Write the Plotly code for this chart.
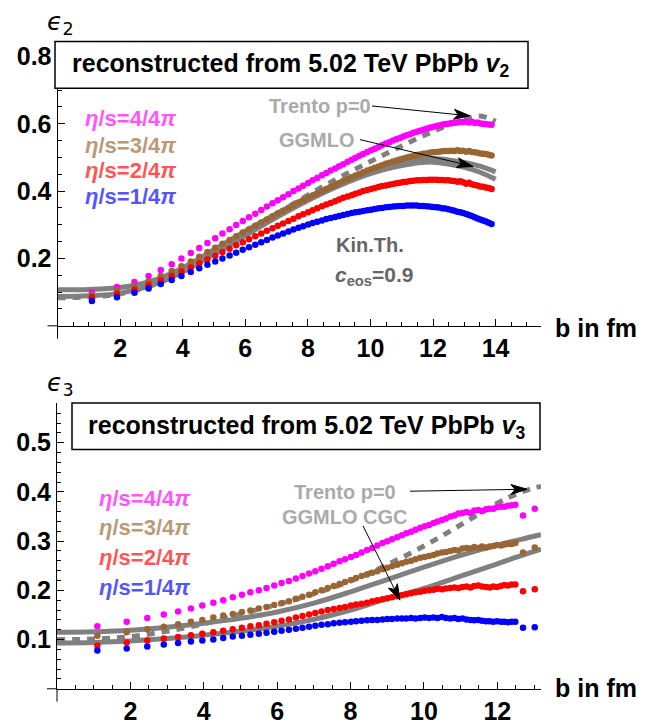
import math
import plotly.graph_objects as go

W, H = 651, 725

# ---------------- data: top panel (epsilon_2) ----------------
b_top = [1.10, 1.90, 2.46, 2.91, 3.30, 3.65, 3.96, 4.26, 4.53, 4.79,
         5.04, 5.27, 5.50, 5.71, 5.92, 6.12, 6.32, 6.51, 6.69, 6.87,
         7.04, 7.21, 7.38, 7.54, 7.70, 7.85, 8.01, 8.15, 8.30, 8.45,
         8.59, 8.73, 8.87, 9.00, 9.13, 9.27, 9.40, 9.52, 9.65, 9.77,
         9.90, 10.02, 10.14, 10.26, 10.37, 10.49, 10.60, 10.72, 10.83, 10.94,
         11.05, 11.16, 11.27, 11.37, 11.48, 11.58, 11.69, 11.79, 11.89, 11.99,
         12.10, 12.19, 12.29, 12.39, 12.49, 12.59, 12.68, 12.78, 12.87, 12.96,
         13.06, 13.15, 13.24, 13.33, 13.42, 13.51, 13.60, 13.69, 13.78, 13.87]

e2_eta1 = [0.074, 0.085, 0.098, 0.111, 0.124, 0.136, 0.148, 0.160, 0.171, 0.181,
           0.191, 0.200, 0.209, 0.217, 0.226, 0.233, 0.241, 0.248, 0.255, 0.262,
           0.268, 0.274, 0.280, 0.286, 0.291, 0.296, 0.301, 0.305, 0.309, 0.313,
           0.317, 0.320, 0.323, 0.326, 0.329, 0.332, 0.335, 0.337, 0.339, 0.341,
           0.343, 0.345, 0.347, 0.349, 0.350, 0.352, 0.353, 0.354, 0.355, 0.356,
           0.356, 0.357, 0.357, 0.357, 0.357, 0.356, 0.356, 0.355, 0.354, 0.353,
           0.352, 0.351, 0.349, 0.348, 0.346, 0.344, 0.342, 0.339, 0.337, 0.335,
           0.332, 0.329, 0.326, 0.322, 0.319, 0.316, 0.313, 0.310, 0.306, 0.302]

e2_eta2 = [0.085, 0.095, 0.107, 0.121, 0.135, 0.148, 0.161, 0.174, 0.186, 0.197,
           0.208, 0.219, 0.229, 0.239, 0.248, 0.257, 0.266, 0.274, 0.282, 0.290,
           0.297, 0.304, 0.311, 0.318, 0.325, 0.331, 0.337, 0.343, 0.349, 0.355,
           0.360, 0.365, 0.370, 0.375, 0.380, 0.384, 0.388, 0.392, 0.396, 0.400,
           0.403, 0.406, 0.409, 0.412, 0.415, 0.417, 0.419, 0.421, 0.423, 0.425,
           0.427, 0.428, 0.430, 0.431, 0.432, 0.432, 0.433, 0.433, 0.434, 0.434,
           0.434, 0.433, 0.433, 0.432, 0.432, 0.431, 0.430, 0.428, 0.429, 0.426,
           0.422, 0.425, 0.420, 0.418, 0.417, 0.414, 0.413, 0.411, 0.409, 0.406]

e2_eta3 = [0.092, 0.106, 0.118, 0.132, 0.148, 0.163, 0.177, 0.191, 0.205, 0.219,
           0.232, 0.244, 0.255, 0.266, 0.277, 0.287, 0.297, 0.307, 0.316, 0.325,
           0.334, 0.342, 0.350, 0.358, 0.366, 0.373, 0.380, 0.387, 0.393, 0.400,
           0.406, 0.412, 0.418, 0.424, 0.430, 0.436, 0.441, 0.446, 0.451, 0.456,
           0.461, 0.465, 0.469, 0.473, 0.477, 0.481, 0.484, 0.488, 0.491, 0.494,
           0.497, 0.500, 0.502, 0.504, 0.507, 0.509, 0.511, 0.512, 0.514, 0.515,
           0.516, 0.517, 0.518, 0.519, 0.519, 0.520, 0.519, 0.521, 0.519, 0.520,
           0.517, 0.519, 0.516, 0.515, 0.514, 0.512, 0.511, 0.510, 0.508, 0.506]

e2_eta4 = [0.100, 0.115, 0.130, 0.148, 0.166, 0.183, 0.200, 0.216, 0.231, 0.246,
           0.260, 0.274, 0.287, 0.299, 0.311, 0.322, 0.333, 0.344, 0.354, 0.364,
           0.373, 0.382, 0.391, 0.400, 0.408, 0.416, 0.424, 0.432, 0.439, 0.447,
           0.454, 0.461, 0.467, 0.474, 0.480, 0.487, 0.493, 0.499, 0.505, 0.510,
           0.516, 0.521, 0.526, 0.531, 0.536, 0.541, 0.545, 0.550, 0.554, 0.558,
           0.562, 0.566, 0.569, 0.573, 0.576, 0.579, 0.582, 0.585, 0.588, 0.590,
           0.593, 0.595, 0.597, 0.599, 0.600, 0.602, 0.603, 0.604, 0.606, 0.605,
           0.607, 0.604, 0.606, 0.602, 0.604, 0.601, 0.600, 0.599, 0.598, 0.597]

# model curves, top panel
b_line_top = [0, 1, 2, 3, 4, 5, 6, 7, 8, 9, 10, 11, 12, 13, 13.5, 14.0]
ggmlo_top_a = [0.107, 0.108, 0.114, 0.133, 0.172, 0.226, 0.281, 0.333, 0.382, 0.425,
               0.462, 0.487, 0.497, 0.485, 0.474, 0.457]
ggmlo_top_b = [0.087, 0.089, 0.097, 0.120, 0.160, 0.213, 0.268, 0.322, 0.372, 0.416,
               0.452, 0.476, 0.486, 0.471, 0.456, 0.435]
trento_top = [0.083, 0.086, 0.095, 0.119, 0.162, 0.217, 0.274, 0.332, 0.388, 0.440,
              0.488, 0.534, 0.577, 0.612, 0.623, 0.607]

# ---------------- data: bottom panel (epsilon_3) ----------------
b_bot = [1.10, 1.90, 2.46, 2.91, 3.30, 3.65, 3.96, 4.26, 4.53, 4.79,
         5.04, 5.27, 5.50, 5.71, 5.92, 6.12, 6.32, 6.51, 6.69, 6.87,
         7.04, 7.21, 7.38, 7.54, 7.70, 7.85, 8.01, 8.15, 8.30, 8.45,
         8.59, 8.73, 8.87, 9.00, 9.13, 9.27, 9.40, 9.52, 9.65, 9.77,
         9.90, 10.02, 10.14, 10.26, 10.37, 10.49, 10.60, 10.72, 10.83, 10.94,
         11.05, 11.16, 11.27, 11.37, 11.48, 11.58, 11.69, 11.79, 11.89, 11.99,
         12.10, 12.19, 12.29, 12.39, 12.49, 12.70, 13.02]

e3_eta4 = [0.127, 0.136, 0.144, 0.151, 0.157, 0.163, 0.169, 0.175, 0.180, 0.186,
           0.191, 0.196, 0.200, 0.205, 0.210, 0.215, 0.219, 0.224, 0.229, 0.234,
           0.239, 0.244, 0.249, 0.254, 0.259, 0.263, 0.268, 0.272, 0.277, 0.282,
           0.286, 0.291, 0.296, 0.300, 0.304, 0.308, 0.312, 0.316, 0.319, 0.323,
           0.327, 0.330, 0.333, 0.337, 0.340, 0.343, 0.346, 0.350, 0.352, 0.356,
           0.357, 0.359, 0.357, 0.362, 0.363, 0.361, 0.365, 0.366, 0.366, 0.369,
           0.370, 0.370, 0.372, 0.373, 0.374, 0.352, 0.366]

e3_eta3 = [0.108, 0.115, 0.121, 0.126, 0.131, 0.136, 0.140, 0.145, 0.149, 0.152,
           0.156, 0.159, 0.163, 0.166, 0.170, 0.174, 0.178, 0.183, 0.187, 0.191,
           0.196, 0.200, 0.205, 0.209, 0.213, 0.217, 0.221, 0.225, 0.229, 0.232,
           0.236, 0.239, 0.243, 0.246, 0.249, 0.252, 0.255, 0.258, 0.260, 0.263,
           0.266, 0.268, 0.270, 0.272, 0.275, 0.277, 0.278, 0.280, 0.282, 0.281,
           0.285, 0.286, 0.285, 0.288, 0.286, 0.289, 0.287, 0.289, 0.290, 0.292,
           0.291, 0.293, 0.294, 0.294, 0.296, 0.277, 0.287]

e3_eta2 = [0.088, 0.094, 0.098, 0.102, 0.105, 0.109, 0.112, 0.115, 0.118, 0.121,
           0.124, 0.127, 0.129, 0.132, 0.135, 0.138, 0.141, 0.145, 0.148, 0.151,
           0.154, 0.157, 0.160, 0.162, 0.164, 0.166, 0.169, 0.171, 0.173, 0.175,
           0.178, 0.180, 0.182, 0.184, 0.186, 0.188, 0.190, 0.192, 0.194, 0.196,
           0.197, 0.199, 0.200, 0.201, 0.203, 0.202, 0.204, 0.205, 0.206, 0.205,
           0.207, 0.208, 0.206, 0.209, 0.210, 0.208, 0.207, 0.206, 0.208, 0.207,
           0.209, 0.211, 0.210, 0.212, 0.212, 0.198, 0.202]

e3_eta1 = [0.078, 0.082, 0.086, 0.090, 0.093, 0.096, 0.098, 0.100, 0.103, 0.106,
           0.108, 0.110, 0.112, 0.114, 0.116, 0.118, 0.120, 0.122, 0.124, 0.126,
           0.128, 0.130, 0.131, 0.133, 0.134, 0.135, 0.136, 0.137, 0.138, 0.139,
           0.140, 0.140, 0.141, 0.142, 0.142, 0.143, 0.143, 0.143, 0.144, 0.143,
           0.144, 0.145, 0.144, 0.145, 0.144, 0.146, 0.144, 0.143, 0.144, 0.142,
           0.143, 0.141, 0.140, 0.139, 0.140, 0.138, 0.137, 0.137, 0.136, 0.137,
           0.136, 0.136, 0.135, 0.136, 0.136, 0.124, 0.125]

b_line_bot = [0, 1, 2, 3, 4, 5, 6, 7, 8, 9, 10, 11, 12, 12.5, 13, 13.19]
ggmlo_bot_a = [0.115, 0.116, 0.119, 0.125, 0.133, 0.143, 0.156, 0.174, 0.197, 0.222,
               0.247, 0.271, 0.292, 0.301, 0.310, 0.313]
ggmlo_bot_b = [0.093, 0.094, 0.097, 0.102, 0.109, 0.117, 0.127, 0.141, 0.160, 0.183,
               0.204, 0.229, 0.254, 0.267, 0.279, 0.284]
trento_bot = [0.100, 0.101, 0.106, 0.117, 0.132, 0.152, 0.171, 0.193, 0.219, 0.252,
              0.290, 0.333, 0.377, 0.395, 0.408, 0.411]

legend_labels = ["<i>η</i>/s=4/4<i>π</i>", "<i>η</i>/s=3/4<i>π</i>",
                 "<i>η</i>/s=2/4<i>π</i>", "<i>η</i>/s=1/4<i>π</i>"]
dot_colors = ["#FF00FF", "#996633", "#FF0000", "#0000FF"]
label_colors = ["#FF55FF", "#BB9977", "#FF5555", "#5555FF"]

x_ticks_top = [2, 4, 6, 8, 10, 12, 14]
y_ticks_top = [0.2, 0.4, 0.6, 0.8]
x_ticks_bot = [2, 4, 6, 8, 10, 12]
y_ticks_bot = [0.1, 0.2, 0.3, 0.4, 0.5]

# ---------------- helpers ----------------
def px(x):
    return x / W

def py(y):
    return 1 - y / H

FONT = "Liberation Sans"
GRAY = "#808080"

fig = go.Figure()

def add_lines(xs, ya, yb, yt, xa, yax):
    for ys in (ya, yb):
        fig.add_trace(go.Scatter(x=xs, y=ys, mode="lines", xaxis=xa, yaxis=yax,
                                 line=dict(color=GRAY, width=5, shape="spline"),
                                 showlegend=False, hoverinfo="skip"))
    fig.add_trace(go.Scatter(x=xs, y=yt, mode="lines", xaxis=xa, yaxis=yax,
                             line=dict(color=GRAY, width=5, dash="8px,7px", shape="spline"),
                             showlegend=False, hoverinfo="skip"))

add_lines(b_line_top, ggmlo_top_a, ggmlo_top_b, trento_top, "x", "y")
add_lines(b_line_bot, ggmlo_bot_a, ggmlo_bot_b, trento_bot, "x2", "y2")

for ys, c in zip([e2_eta4, e2_eta3, e2_eta2, e2_eta1], dot_colors):
    fig.add_trace(go.Scatter(x=b_top, y=ys, mode="markers", xaxis="x", yaxis="y",
                             marker=dict(color=c, size=6.5), showlegend=False))
for ys, c in zip([e3_eta4, e3_eta3, e3_eta2, e3_eta1], dot_colors):
    fig.add_trace(go.Scatter(x=b_bot, y=ys, mode="markers", xaxis="x2", yaxis="y2",
                             marker=dict(color=c, size=6.5), showlegend=False))

tickfont = dict(family=FONT, size=25, color="black", weight="bold")

def xaxis_cfg(dom, rng, tv, anchor):
    return dict(domain=dom, range=rng, anchor=anchor, showline=True, linecolor="black",
                linewidth=1, ticks="inside", ticklen=7, tickwidth=1, tickcolor="black",
                tickmode="array", tickvals=tv, ticktext=[str(v) for v in tv],
                minor=dict(ticks="inside", ticklen=4, tickwidth=1, tickcolor="black",
                           tickmode="linear", tick0=0, dtick=0.5),
                showgrid=False, zeroline=False, tickfont=tickfont, fixedrange=True)

def yaxis_cfg(dom, rng, tv, anchor, minor_d):
    return dict(domain=dom, range=rng, anchor=anchor, showline=True, linecolor="black",
                linewidth=1, ticks="inside", ticklen=7, tickwidth=1, tickcolor="black",
                tickmode="array", tickvals=tv, ticktext=[f"{v:.1f}" for v in tv],
                minor=dict(ticks="inside", ticklen=4, tickwidth=1, tickcolor="black",
                           tickmode="linear", tick0=0, dtick=minor_d),
                showgrid=False, zeroline=False, tickfont=tickfont, fixedrange=True)

# pixel geometry of the two panels
top_x0, top_x1, top_y0, top_y1 = 57.5, 541, 329, 43
bot_x0, bot_x1, bot_y0, bot_y1 = 57, 541, 695.5, 407

fig.update_layout(
    width=W, height=H, margin=dict(l=0, r=0, t=0, b=0),
    paper_bgcolor="white", plot_bgcolor="white",
    xaxis=xaxis_cfg([px(top_x0), px(top_x1)], [0, 15.45], x_ticks_top, "y"),
    yaxis=yaxis_cfg([py(top_y0), py(top_y1)], [0, 0.841], y_ticks_top, "x", 0.05),
    xaxis2=xaxis_cfg([px(bot_x0), px(bot_x1)], [0, 13.19], x_ticks_bot, "y2"),
    yaxis2=yaxis_cfg([py(bot_y0), py(bot_y1)], [0, 0.5805], y_ticks_bot, "x2", 0.02),
)

shapes = []
anns = []

# axis extensions (Mathematica style crossing axes)
for (x0, y0) in [(top_x0, top_y0), (bot_x0, bot_y0)]:
    shapes.append(dict(type="line", xref="paper", yref="paper", x0=px(x0), x1=px(x0),
                       y0=py(y0), y1=py(y0 + 13), line=dict(color="black", width=1)))
    shapes.append(dict(type="line", xref="paper", yref="paper", x0=px(x0 - 10), x1=px(x0),
                       y0=py(y0), y1=py(y0), line=dict(color="black", width=1)))

# title boxes
for (x0, x1, y0, y1) in [(55, 528, 42, 89), (72, 540, 407, 454)]:
    shapes.append(dict(type="rect", xref="paper", yref="paper", x0=px(x0), x1=px(x1),
                       y0=py(y1), y1=py(y0), line=dict(color="black", width=1.5),
                       fillcolor="white", layer="above"))

def text(x, y, s, size, color="black", xanchor="center", bold=True, family=FONT):
    f = dict(family=family, size=size, color=color)
    if bold:
        f["weight"] = "bold"
    anns.append(dict(xref="paper", yref="paper", x=px(x), y=py(y), text=s, showarrow=False,
                     xanchor=xanchor, yanchor="middle", font=f))

text(290, 66, "reconstructed from 5.02 TeV PbPb <i>v</i><sub>2</sub>", 25)
text(306, 431, "reconstructed from 5.02 TeV PbPb <i>v</i><sub>3</sub>", 25)

for i, (lab, col) in enumerate(zip(legend_labels, label_colors)):
    text(83, [120, 147, 172, 198][i], lab, 22, col, xanchor="left")
    text(97, [503, 533, 563, 593][i], lab, 22, col, xanchor="left")

text(320, 107, "Trento p=0", 20, "#AAAAAA")
text(317, 141, "GGMLO", 20, "#AAAAAA")
text(370, 247, "Kin.Th.", 20, "#666666")
text(374, 279, "<i>c</i><sub>eos</sub>=0.9", 21, "#666666")
text(345, 497, "Trento p=0", 20, "#AAAAAA")
text(345, 522, "GGMLO CGC", 20, "#AAAAAA")

text(553, 331, "b in fm", 25, xanchor="left")
text(553, 695, "b in fm", 25, xanchor="left")
text(45, 23, "<i>ϵ</i><sub>2</sub>", 25, xanchor="left", bold=False, family="DejaVu Sans")
text(45, 388, "<i>ϵ</i><sub>3</sub>", 25, xanchor="left", bold=False, family="DejaVu Sans")

def arrow(x0, y0, x1, y1, L=16, hw=5, notch=12):
    dx, dy = x1 - x0, y1 - y0
    d = math.hypot(dx, dy)
    ux, uy = dx / d, dy / d
    nx, ny = -uy, ux
    bx, by = x1 - ux * L, y1 - uy * L
    p1 = (bx + nx * hw, by + ny * hw)
    p2 = (bx - nx * hw, by - ny * hw)
    pn = (x1 - ux * notch, y1 - uy * notch)
    shapes.append(dict(type="line", xref="paper", yref="paper", x0=px(x0), y0=py(y0),
                       x1=px(pn[0]), y1=py(pn[1]), line=dict(color="black", width=1)))
    path = (f"M {px(x1)},{py(y1)} L {px(p1[0])},{py(p1[1])} L {px(pn[0])},{py(pn[1])} "
            f"L {px(p2[0])},{py(p2[1])} Z")
    shapes.append(dict(type="path", xref="paper", yref="paper", path=path,
                       fillcolor="black", line=dict(color="black", width=1)))

arrow(372, 107, 470, 117)
arrow(360, 141, 473, 168)
arrow(410, 496, 527, 494)
arrow(363, 531, 400, 606)

fig.update_layout(shapes=shapes, annotations=anns)
fig.write_html("out.html")
